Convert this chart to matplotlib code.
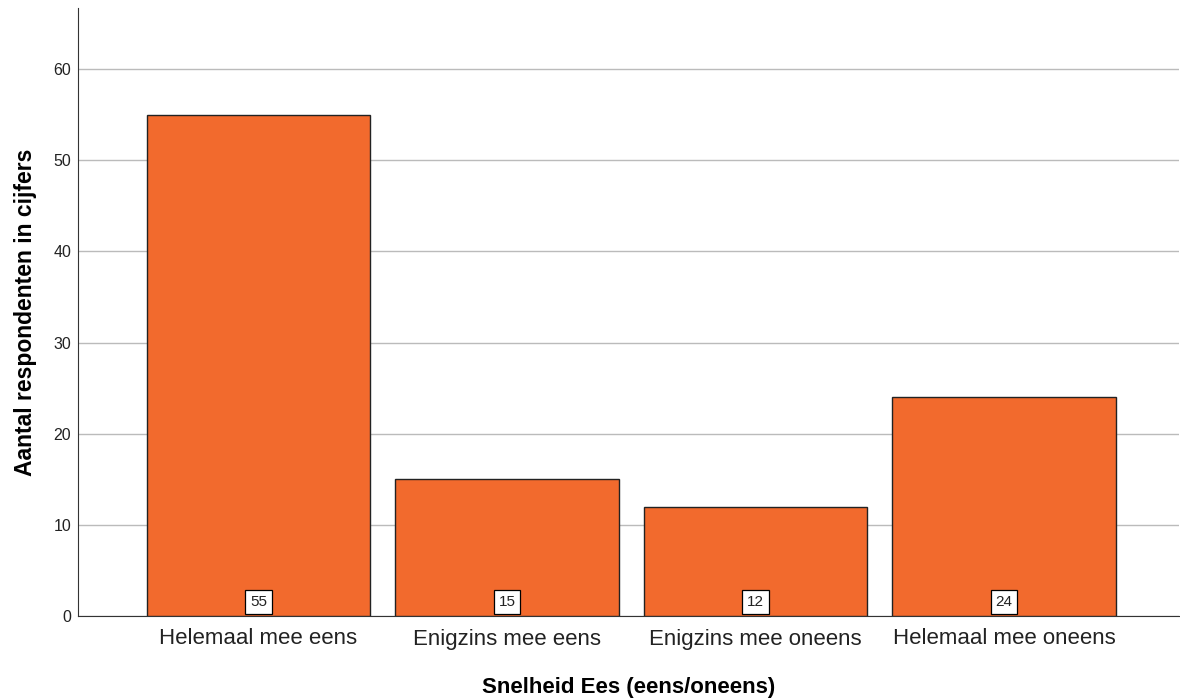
import matplotlib.pyplot as plt

categories = ["Helemaal mee eens", "Enigzins mee eens", "Enigzins mee oneens", "Helemaal mee oneens"]
counts = [55, 15, 12, 24]
yticks = [0, 10, 20, 30, 40, 50, 60]

plt.rcParams['font.family'] = ['Liberation Sans', 'DejaVu Sans']

fig = plt.figure(figsize=(11.8, 7), dpi=100)
ax = fig.add_axes([0.0661, 0.12, 0.933, 0.8686])

x = list(range(len(categories)))
ax.bar(x, counts, width=0.9, color="#F26A2D", edgecolor="#222222", linewidth=1.0, zorder=3)

# labels in witte kaders onderaan de balken
for xi, c in zip(x, counts):
    ax.text(xi, 0.75, str(c), ha="center", va="bottom", fontsize=11, color="#222222", zorder=4,
            bbox=dict(boxstyle="square,pad=0.32", facecolor="white", edgecolor="black", linewidth=0.9))

ax.set_xlim(-0.726, 3.704)
ax.set_ylim(0, 66.7)
ax.set_yticks(yticks)
ax.set_xticks(x)
ax.set_xticklabels(categories, fontsize=16, color="#222222")
ax.tick_params(axis="y", labelsize=11.5, colors="#222222", length=0, pad=5)
ax.tick_params(axis="x", length=0, pad=9)
ax.grid(axis="y", color="#BBBBBB", linewidth=1.0, zorder=0)

for s in ["top", "right"]:
    ax.spines[s].set_visible(False)
ax.spines["left"].set_color("#333333")
ax.spines["bottom"].set_color("#333333")

ax.set_xlabel("Snelheid Ees (eens/oneens)", fontsize=16, fontweight="bold", labelpad=20)
ax.set_ylabel("Aantal respondenten in cijfers", fontsize=16.5, fontweight="bold", labelpad=12)

fig.savefig("out.png", dpi=100)
